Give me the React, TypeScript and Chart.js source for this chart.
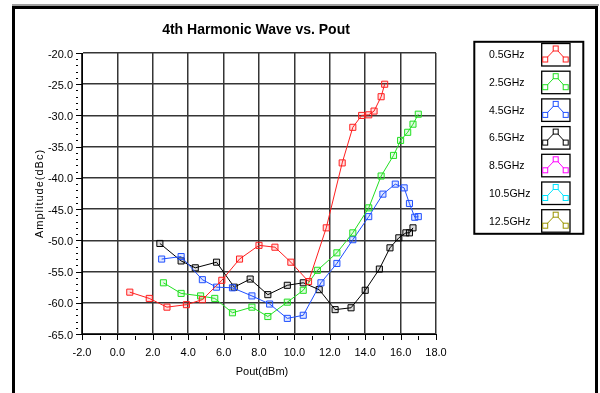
import React, { useEffect, useRef } from "react";
import { Chart, registerables } from "chart.js";

Chart.register(...registerables);

// Harmonic measurement series: output power (dBm) vs. 4th harmonic amplitude (dBc)
const seriesLabels = ["0.5GHz", "2.5GHz", "4.5GHz", "6.5GHz", "8.5GHz", "10.5GHz", "12.5GHz"];
const seriesColors = ["#ff1f1f", "#22e022", "#2050ff", "#000000", "#ff00ff", "#00e5ff", "#9a9400"];

const pout05 = [0.7, 1.8, 2.8, 3.9, 4.8, 5.9, 6.9, 8.0, 8.9, 9.8, 10.8, 11.8, 12.7, 13.3, 13.8, 14.2, 14.5, 14.9, 15.1];
const amp05 = [-58.3, -59.3, -60.7, -60.3, -59.5, -56.4, -53.0, -50.8, -51.1, -53.5, -56.6, -48.0, -37.6, -31.9, -30.0, -29.9, -29.3, -27.0, -25.0];

const pout25 = [2.6, 3.6, 4.7, 5.5, 6.5, 7.6, 8.5, 9.6, 10.5, 11.3, 12.4, 13.3, 14.2, 14.9, 15.6, 16.0, 16.4, 16.7, 17.0];
const amp25 = [-56.8, -58.5, -58.9, -59.3, -61.6, -60.7, -62.2, -59.9, -58.0, -54.8, -52.0, -48.8, -44.8, -39.7, -36.4, -34.0, -32.7, -31.4, -29.8];

const pout45 = [2.5, 3.6, 4.8, 5.6, 6.5, 7.6, 8.6, 9.6, 10.5, 11.5, 12.4, 13.3, 14.2, 15.0, 15.7, 16.2, 16.5, 16.8, 17.0];
const amp45 = [-53.0, -52.6, -56.3, -57.5, -57.6, -58.9, -60.2, -62.5, -62.0, -56.8, -53.7, -49.9, -46.2, -42.6, -41.0, -41.6, -44.1, -46.3, -46.2];

const pout65 = [2.4, 3.6, 4.4, 5.6, 6.6, 7.5, 8.5, 9.6, 10.5, 11.4, 12.3, 13.2, 14.0, 14.8, 15.4, 15.9, 16.3, 16.5, 16.7];
const amp65 = [-50.5, -53.3, -54.4, -53.5, -57.5, -56.2, -58.7, -57.2, -56.8, -57.9, -61.1, -60.8, -58.0, -54.6, -51.2, -49.6, -48.8, -48.8, -48.0];

// No measurements for the upper bands; they appear in the legend only
const pout85: number[] = [];
const amp85: number[] = [];
const pout105: number[] = [];
const amp105: number[] = [];
const pout125: number[] = [];
const amp125: number[] = [];

const seriesX = [pout05, pout25, pout45, pout65, pout85, pout105, pout125];
const seriesY = [amp05, amp25, amp45, amp65, amp85, amp105, amp125];

const titleText = "4th Harmonic Wave vs. Pout";
const xTitle = "Pout(dBm)";
const yTitle = "Amplitude(dBc)";

const X_MIN = -2;
const X_MAX = 18;
const Y_MIN = -65;
const Y_MAX = -20;

const FONT = '"Liberation Sans", Arial, sans-serif';

function hexAlpha(hex: string, a: string) {
  return hex + a;
}

// Window frame, title and axis captions
const framePlugin = {
  id: "frame",
  beforeDraw(chart: any) {
    const { ctx, width, height, chartArea: a } = chart;
    ctx.save();
    ctx.fillStyle = "#ffffff";
    ctx.fillRect(0, 0, width, height);
    ctx.fillStyle = "#a0a0a0";
    ctx.fillRect(12, 4, 587, 2);
    ctx.fillStyle = "#000000";
    ctx.fillRect(12, 6, 586, 3);
    ctx.fillRect(12, 6, 3, height - 6);
    ctx.fillRect(595, 6, 3, height - 6);
    ctx.restore();

    ctx.save();
    ctx.fillStyle = "#000";
    ctx.textAlign = "center";
    ctx.textBaseline = "alphabetic";
    ctx.font = `bold 14px ${FONT}`;
    ctx.fillText(titleText, 256, 33.5);

    ctx.font = `11px ${FONT}`;
    ctx.textBaseline = "middle";
    ctx.fillText(xTitle, (a.left + a.right) / 2 + 3, 372);

    ctx.translate(40, (a.top + a.bottom) / 2);
    ctx.rotate(-Math.PI / 2);
    (ctx as any).letterSpacing = "1px";
    ctx.fillText(yTitle, 0, 0);
    ctx.restore();
  },
};

// Major / minor tick marks outside the plot area
const tickMarksPlugin = {
  id: "tickMarks",
  afterDraw(chart: any) {
    const { ctx, chartArea: a, scales } = chart;
    const xs = scales.x;
    const ys = scales.y;
    ctx.save();
    ctx.strokeStyle = "#000";
    ctx.lineWidth = 1;
    ctx.beginPath();
    xs.ticks.forEach((t: any) => {
      const px = Math.round(xs.getPixelForValue(t.value)) + 0.5;
      const major = Math.round(t.value) % 2 === 0;
      ctx.moveTo(px, a.bottom + (major ? 0 : 2));
      ctx.lineTo(px, a.bottom + 6);
    });
    ys.ticks.forEach((t: any) => {
      const py = Math.round(ys.getPixelForValue(t.value)) + 0.5;
      const major = Math.round(t.value) % 5 === 0;
      ctx.moveTo(a.left - 6, py);
      ctx.lineTo(major ? a.left : a.left - 4, py);
    });
    ctx.stroke();
    ctx.restore();
  },
};

// Boxed legend with a small sample trace per series
const legendPlugin = {
  id: "boxLegend",
  afterDraw(chart: any) {
    const { ctx } = chart;
    const datasets = chart.data.datasets;
    const boxX = 474.3;
    const boxY = 41.8;
    const boxW = 109;
    const boxH = 192;
    const step = 27.7;
    ctx.save();
    ctx.strokeStyle = "#000";
    ctx.lineWidth = 2;
    ctx.strokeRect(boxX, boxY, boxW, boxH);

    datasets.forEach((ds: any, i: number) => {
      const cy = 55 + i * step;
      ctx.fillStyle = "#000";
      ctx.font = `10.5px ${FONT}`;
      ctx.textAlign = "left";
      ctx.textBaseline = "middle";
      ctx.fillText(ds.label, 489, cy + 0.5);

      const ix = 541.7;
      const iy = 43.5 + i * step;
      const iw = 28.3;
      const ih = 22.5;
      ctx.lineWidth = 1.3;
      ctx.strokeStyle = "#000";
      ctx.strokeRect(ix, iy, iw, ih);

      const pts = [
        [ix + 3.5, iy + 16],
        [ix + 14, iy + 5],
        [ix + 24, iy + 16],
      ];
      ctx.strokeStyle = ds.borderColor;
      ctx.lineWidth = 1;
      ctx.beginPath();
      ctx.moveTo(pts[0][0], pts[0][1]);
      ctx.lineTo(pts[1][0], pts[1][1]);
      ctx.lineTo(pts[2][0], pts[2][1]);
      ctx.stroke();
      pts.forEach(([px, py]) => {
        ctx.fillStyle = "#fff";
        ctx.fillRect(px - 2.5, py - 2.5, 5, 5);
        ctx.strokeRect(px - 2.5, py - 2.5, 5, 5);
      });
    });
    ctx.restore();
  },
};

export default function App() {
  const canvasRef = useRef<HTMLCanvasElement | null>(null);

  useEffect(() => {
    const canvas = canvasRef.current;
    if (!canvas) return;

    const datasets = seriesLabels.map((label, i) => ({
      label,
      data: seriesX[i].map((x, k) => ({ x, y: seriesY[i][k] })),
      borderColor: seriesColors[i],
      backgroundColor: seriesColors[i],
      borderWidth: 1,
      showLine: true,
      tension: 0,
      pointStyle: "rect" as const,
      pointRadius: 4.3,
      pointBorderWidth: 1,
      pointBorderColor: seriesColors[i],
      pointBackgroundColor: hexAlpha(seriesColors[i], "22"),
    }));

    const chart = new Chart(canvas, {
      type: "scatter",
      data: { datasets },
      options: {
        responsive: false,
        animation: false,
        devicePixelRatio: 1,
        layout: { padding: { top: 53, right: 164, left: 0, bottom: 0 } },
        plugins: {
          legend: { display: false },
          title: { display: false },
          tooltip: { enabled: false },
        },
        scales: {
          x: {
            type: "linear",
            min: X_MIN,
            max: X_MAX,
            afterFit: (s: any) => {
              s.height = 59;
            },
            ticks: {
              stepSize: 1,
              autoSkip: false,
              maxRotation: 0,
              padding: 12,
              color: "#000",
              font: { family: FONT, size: 11 },
              callback: (v: any) => (Math.round(v) % 2 === 0 ? Number(v).toFixed(1) : ""),
            },
            grid: {
              drawTicks: false,
              lineWidth: 1.5,
              color: (c: any) =>
                c.tick && Math.round(c.tick.value) % 2 === 0 ? "#353535" : "rgba(0,0,0,0)",
            },
            border: { display: true, color: "#000", width: 1 },
          },
          y: {
            type: "linear",
            min: Y_MIN,
            max: Y_MAX,
            afterFit: (s: any) => {
              s.width = 82;
            },
            ticks: {
              stepSize: 1,
              autoSkip: false,
              padding: 9,
              labelOffset: 1.5,
              color: "#000",
              font: { family: FONT, size: 11 },
              callback: (v: any) => (Math.round(v) % 5 === 0 ? Number(v).toFixed(1) : ""),
            },
            grid: {
              drawTicks: false,
              lineWidth: 1.5,
              color: (c: any) =>
                c.tick && Math.round(c.tick.value) % 5 === 0 ? "#353535" : "rgba(0,0,0,0)",
            },
            border: { display: true, color: "#000", width: 1 },
          },
        },
      },
      plugins: [framePlugin, tickMarksPlugin, legendPlugin],
    });

    return () => {
      chart.destroy();
    };
  }, []);

  return (
    <div style={{ position: "absolute", left: 0, top: 0, width: 600, height: 393 }}>
      <canvas ref={canvasRef} width={600} height={393} style={{ display: "block" }} />
    </div>
  );
}
